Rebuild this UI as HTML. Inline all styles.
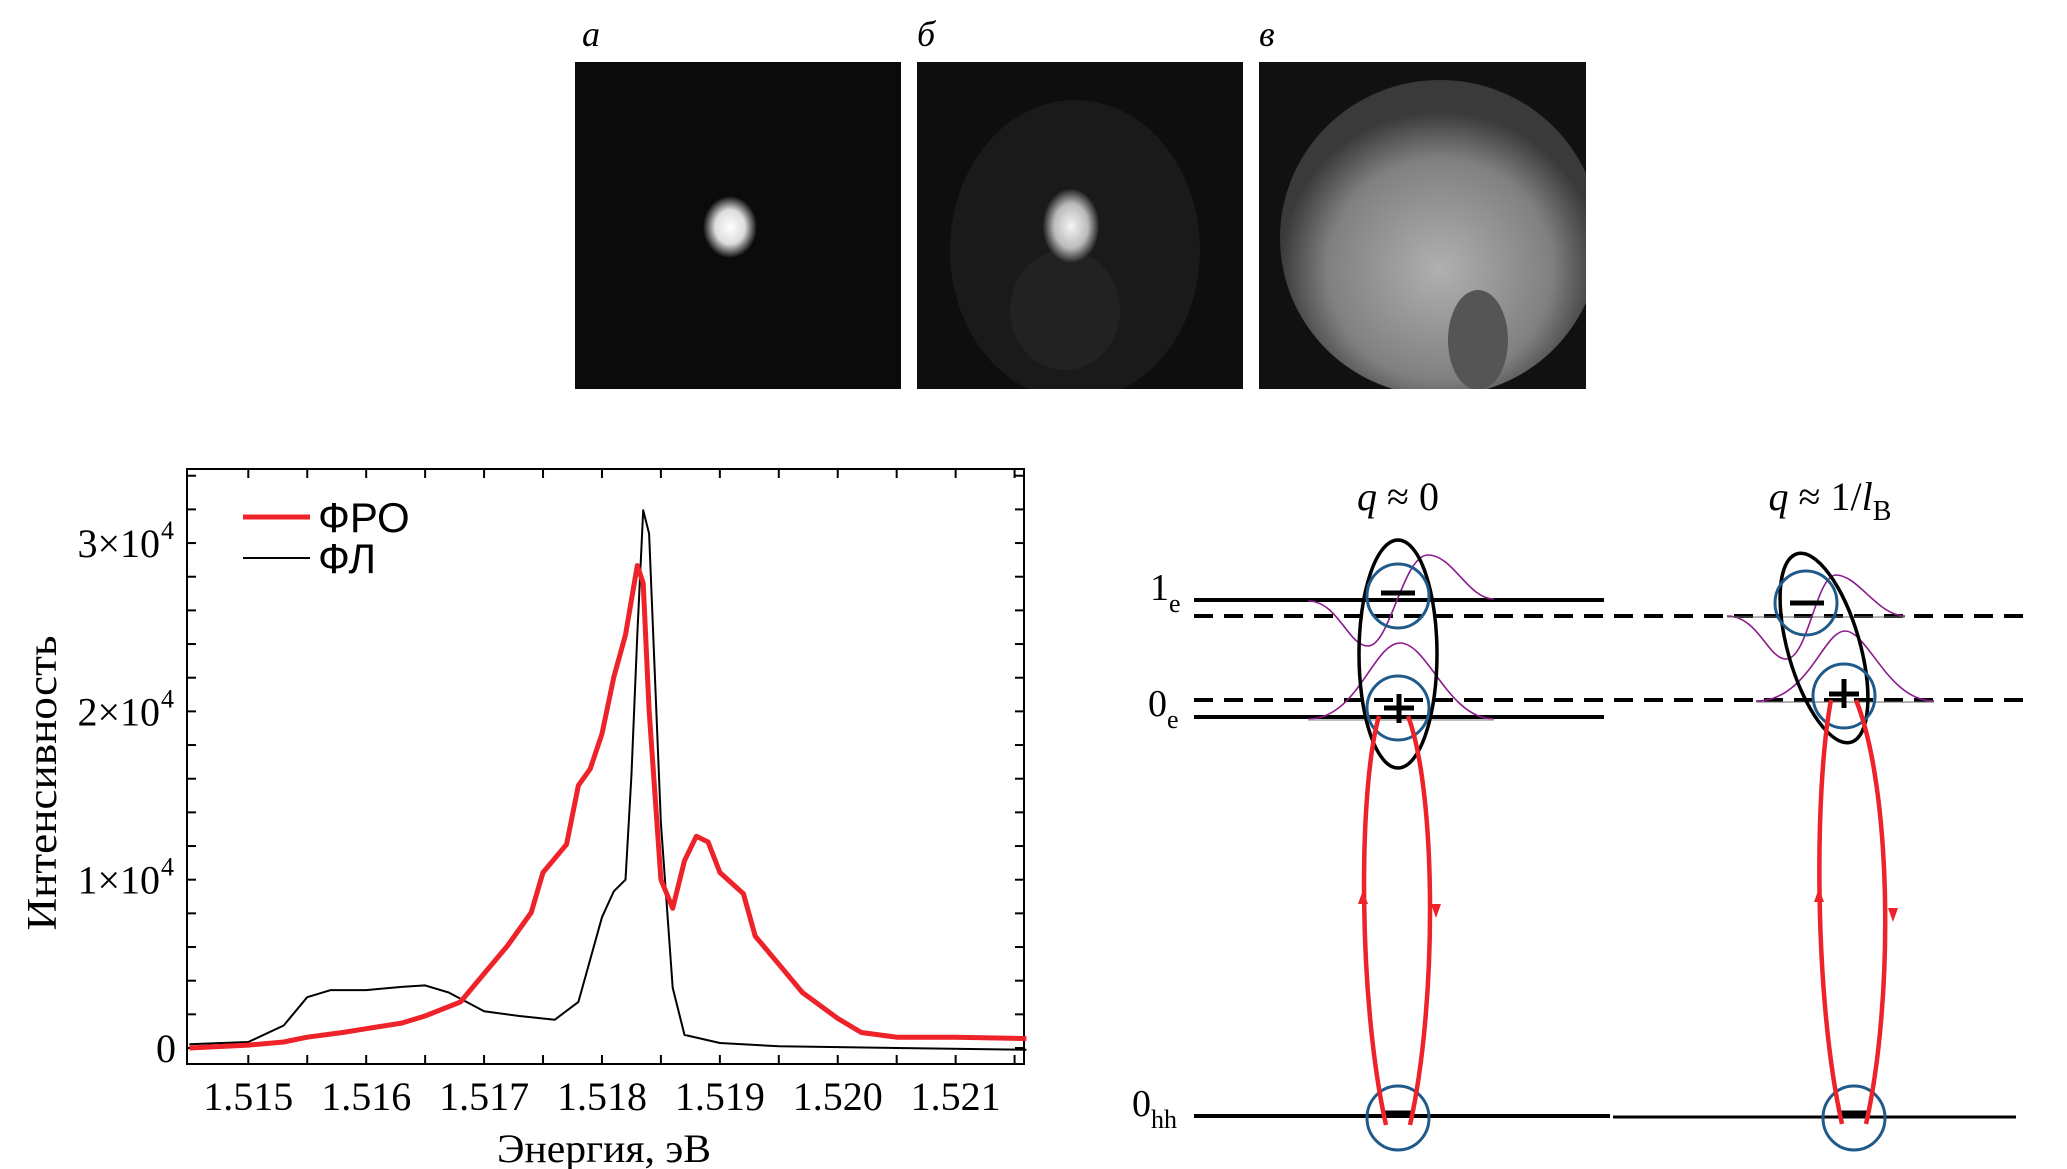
<!DOCTYPE html>
<html><head><meta charset="utf-8"><style>
html,body{margin:0;padding:0;background:#fff;}
svg{display:block;}
</style></head><body>
<svg id="fig" width="2067" height="1169" viewBox="0 0 2067 1169" xmlns="http://www.w3.org/2000/svg">
<defs>
  <radialGradient id="spotA"><stop offset="0" stop-color="#fff"/><stop offset="0.55" stop-color="#ddd"/><stop offset="1" stop-color="#0b0b0b"/></radialGradient>
  <radialGradient id="spotB"><stop offset="0" stop-color="#f4f4f4"/><stop offset="0.6" stop-color="#bbb"/><stop offset="1" stop-color="#222"/></radialGradient>
  <radialGradient id="bigC" cx="0.5" cy="0.6" r="0.5"><stop offset="0" stop-color="#b0b0b0"/><stop offset="0.7" stop-color="#808080"/><stop offset="1" stop-color="#3a3a3a"/></radialGradient>
  <clipPath id="clipC"><rect x="1259" y="62" width="327" height="327"/></clipPath>
  <clipPath id="clipB"><rect x="917" y="62" width="326" height="327"/></clipPath>
</defs>

<g font-family="Liberation Serif, serif" font-style="italic" font-size="36">
  <text x="582" y="46">а</text>
  <text x="917" y="46">б</text>
  <text x="1259" y="46">в</text>
  <rect x="575" y="62" width="326" height="327" fill="#0b0b0b"/>
  <ellipse cx="730" cy="227" rx="27" ry="31" fill="url(#spotA)"/>
  <rect x="917" y="62" width="326" height="327" fill="#0e0e0e"/>
  <g clip-path="url(#clipB)">
    <ellipse cx="1075" cy="250" rx="125" ry="150" fill="#1a1a1a"/>
    <ellipse cx="1065" cy="310" rx="55" ry="60" fill="#222"/>
  </g>
  <ellipse cx="1071" cy="226" rx="28" ry="37" fill="url(#spotB)"/>
  <rect x="1259" y="62" width="327" height="327" fill="#111"/>
  <g clip-path="url(#clipC)">
    <ellipse cx="1440" cy="238" rx="160" ry="158" fill="url(#bigC)"/>
    <ellipse cx="1478" cy="340" rx="30" ry="50" fill="#555"/>
  </g>
</g>

<g id="chart"></g>

<g font-family="Liberation Serif, serif" transform="translate(18,0)">
  <text x="1380" y="510" font-size="40" text-anchor="middle"><tspan font-style="italic">q</tspan> ≈ 0</text>
  <text x="1812" y="510" font-size="40" text-anchor="middle"><tspan font-style="italic">q</tspan> ≈ 1/<tspan font-style="italic">l</tspan><tspan font-size="28" dy="10">B</tspan></text>

  <text x="1114" y="1116" font-size="38">0<tspan font-size="26" dy="12">hh</tspan></text>
  <line x1="1176" y1="1116" x2="1592" y2="1116" stroke="#000" stroke-width="4"/>
  <line x1="1595" y1="1117" x2="1998" y2="1117" stroke="#000" stroke-width="3"/>

  <g transform="translate(0,8)">
  <text x="1132" y="592" font-size="38">1<tspan font-size="26" dy="12">e</tspan></text>
  <text x="1130" y="708" font-size="38">0<tspan font-size="26" dy="12">e</tspan></text>

  <line x1="1176" y1="592" x2="1586" y2="592" stroke="#000" stroke-width="4"/>
  <line x1="1176" y1="709" x2="1586" y2="709" stroke="#000" stroke-width="4"/>
  <line x1="1176" y1="608" x2="2010" y2="608" stroke="#000" stroke-width="4" stroke-dasharray="19,11"/>
  <line x1="1176" y1="692" x2="2010" y2="692" stroke="#000" stroke-width="4" stroke-dasharray="19,11"/>

  <g fill="none" stroke="#8b1a8b" stroke-width="1.6">
    <path d="M1290 593 C1320 593 1330 638 1350 638 C1372 638 1385 547 1410 547 C1435 547 1450 591 1476 591"/>
    <path d="M1290 711 C1340 711 1355 635 1382 635 C1410 635 1430 711 1476 711"/>
    <path d="M1709 608 C1740 608 1750 651 1768 651 C1790 651 1798 567 1818 567 C1840 567 1860 608 1887 608"/>
    <path d="M1738 693 C1790 693 1805 623 1827 623 C1850 623 1870 693 1916 693"/>
  </g>
  <line x1="1290" y1="712" x2="1476" y2="712" stroke="#aaa" stroke-width="1.5"/>
  <line x1="1709" y1="609" x2="1887" y2="609" stroke="#666" stroke-width="1"/>
  <line x1="1738" y1="694" x2="1916" y2="694" stroke="#666" stroke-width="1"/>

  <ellipse cx="1380" cy="646" rx="39" ry="114" fill="none" stroke="#000" stroke-width="3.5"/>
  <ellipse cx="1806" cy="640" rx="36" ry="98" fill="none" stroke="#000" stroke-width="3.5" transform="rotate(-16 1806 640)"/>

  <g fill="none" stroke="#1f5a8a" stroke-width="3">
    <ellipse cx="1380" cy="588" rx="31" ry="32"/>
    <ellipse cx="1380" cy="700" rx="31" ry="32"/>
    <ellipse cx="1788" cy="595" rx="31" ry="32"/>
    <ellipse cx="1826" cy="688" rx="31" ry="32"/>
  </g>
  <g stroke="#000" stroke-width="5">
    <line x1="1363" y1="585" x2="1397" y2="585"/>
    <line x1="1366" y1="700" x2="1396" y2="700"/><line x1="1381" y1="686" x2="1381" y2="715"/>
    <line x1="1772" y1="595" x2="1806" y2="595"/>
    <line x1="1811" y1="686" x2="1841" y2="686"/><line x1="1826" y1="671" x2="1826" y2="700"/>
  </g>
  </g>

  <g fill="none" stroke="#1f5a8a" stroke-width="3">
    <ellipse cx="1380" cy="1118" rx="31" ry="32"/>
    <ellipse cx="1836" cy="1118" rx="31" ry="32"/>
  </g>
  <g stroke="#000" stroke-width="5">
    <line x1="1366" y1="1113" x2="1394" y2="1113"/>
    <line x1="1822" y1="1113" x2="1850" y2="1113"/>
  </g>

  <g fill="none" stroke="#ee2229" stroke-width="4.5">
    <path d="M1368 1125 C1340 1000 1340 790 1361 716"/>
    <path d="M1390 716 C1418 790 1420 1000 1392 1125"/>
    <path d="M1824 1124 C1796 1000 1796 790 1813 700"/>
    <path d="M1838 700 C1874 790 1876 1000 1848 1124"/>
  </g>
  <g fill="#ee2229">
    <path d="M1345 890 l-5 14 l10 0 z"/>
    <path d="M1418 918 l-5 -14 l10 0 z"/>
    <path d="M1801 888 l-5 14 l10 0 z"/>
    <path d="M1875 922 l-5 -14 l10 0 z"/>
  </g>
</g>

<script>
const energy = [1.5145,1.5150,1.5153,1.5155,1.5158,1.5160,1.5163,1.5165,1.5168,1.5170,1.5172,1.5174,1.5175,1.5177,1.5178,1.5179,1.5180,1.5181,1.5182,1.5183,1.51835,1.5184,1.5185,1.5186,1.5187,1.5188,1.5189,1.5190,1.5192,1.5193,1.5195,1.5197,1.5200,1.5202,1.5205,1.5210,1.5216];
const froValues = [0,170,360,640,920,1150,1480,1900,2740,4420,6090,8050,10430,12100,15600,16580,18670,22030,24550,28660,27620,20070,10010,8300,11130,12580,12240,10430,9170,6650,4980,3300,1760,920,640,640,560];
const flEnergy = [1.5145,1.5150,1.5153,1.5155,1.5157,1.5160,1.5163,1.5165,1.5167,1.5170,1.5173,1.5176,1.5178,1.5180,1.5181,1.5182,1.51825,1.5183,1.51835,1.5184,1.5185,1.5186,1.5187,1.5190,1.5195,1.5205,1.5216];
const flValues = [220,360,1340,3020,3440,3440,3630,3720,3300,2180,1900,1680,2740,7770,9310,10000,16160,24550,31950,30560,13360,3580,780,300,100,0,-100];
const xTicks = [1.515,1.516,1.517,1.518,1.519,1.520,1.521];
const xTickLabels = ["1.515","1.516","1.517","1.518","1.519","1.520","1.521"];
const yTicks = [0,10000,20000,30000];
const yTickMantissa = ["0","1","2","3"];

const NS="http://www.w3.org/2000/svg";
const L=187,R=1024,T=469,B=1064;
const xMin=1.51448,xMax=1.52158,yMin=-950,yMax=34400;
const sx=v=>L+(v-xMin)/(xMax-xMin)*(R-L);
const sy=v=>B-(v-yMin)/(yMax-yMin)*(B-T);
const g=document.getElementById('chart');
function mk(tag,attrs){const e=document.createElementNS(NS,tag);for(const k in attrs)e.setAttribute(k,attrs[k]);g.appendChild(e);return e;}

const frame=mk('rect',{x:L,y:T,width:R-L,height:B-T,fill:'none',stroke:'#000','stroke-width':2});



for(let v=1.515;v<=1.5216;v+=0.0005){
  const x=sx(v);
  mk('line',{x1:x,y1:B,x2:x,y2:B-9,stroke:'#000','stroke-width':2});
  mk('line',{x1:x,y1:T,x2:x,y2:T+9,stroke:'#000','stroke-width':2});
}
for(let v=0;v<=34000;v+=2000){
  const y=sy(v);
  mk('line',{x1:L,y1:y,x2:L+9,y2:y,stroke:'#000','stroke-width':2});
  mk('line',{x1:R,y1:y,x2:R-9,y2:y,stroke:'#000','stroke-width':2});
}
xTicks.forEach((v,i)=>{
  const t=mk('text',{x:sx(v),y:1110,'text-anchor':'middle','font-family':'Liberation Serif, serif','font-size':40});
  t.textContent=xTickLabels[i];
  
  
});
yTicks.forEach((v,i)=>{
  const y=sy(v)+14;
  const t=mk('text',{x:i===0?176:160,y:y,'text-anchor':'end','font-family':'Liberation Serif, serif','font-size':40});
  if(i===0){t.textContent='0';}
  else{
    t.textContent=yTickMantissa[i]+'×10';
    const s=mk('text',{x:161,y:y-18,'font-family':'Liberation Serif, serif','font-size':26});
    s.textContent='4';
  }
  
  
});

function line(xs,ys,color,w,name){
  const d=xs.map((x,i)=>(i?'L':'M')+sx(x).toFixed(1)+' '+sy(ys[i]).toFixed(1)).join(' ');
  const p=mk('path',{d:d,fill:'none',stroke:color,'stroke-width':w,'stroke-linejoin':'round'});
  
  
}
line(flEnergy,flValues,'#000',2,'series-fl');
line(energy,froValues,'#ee2229',5,'series-fro');

const l1=mk('line',{x1:243,y1:517,x2:310,y2:517,stroke:'#ee2229','stroke-width':5});


const t1=mk('text',{x:318,y:532,'font-family':'Liberation Sans, sans-serif','font-size':42});
t1.textContent='ФРО';


const l2=mk('line',{x1:243,y1:558,x2:310,y2:558,stroke:'#000','stroke-width':2});


const t2=mk('text',{x:318,y:573,'font-family':'Liberation Sans, sans-serif','font-size':42});
t2.textContent='ФЛ';



const xt=mk('text',{x:604,y:1162,'text-anchor':'middle','font-family':'Liberation Serif, serif','font-size':40,textLength:214,lengthAdjust:'spacingAndGlyphs'});
xt.textContent='Энергия, эВ';


const yt=mk('text',{x:0,y:0,'text-anchor':'middle','font-family':'Liberation Serif, serif','font-size':42,textLength:295,lengthAdjust:'spacingAndGlyphs',transform:'translate(56,783) rotate(-90)'});
yt.textContent='Интенсивность';


</script>
</svg>
</body></html>
